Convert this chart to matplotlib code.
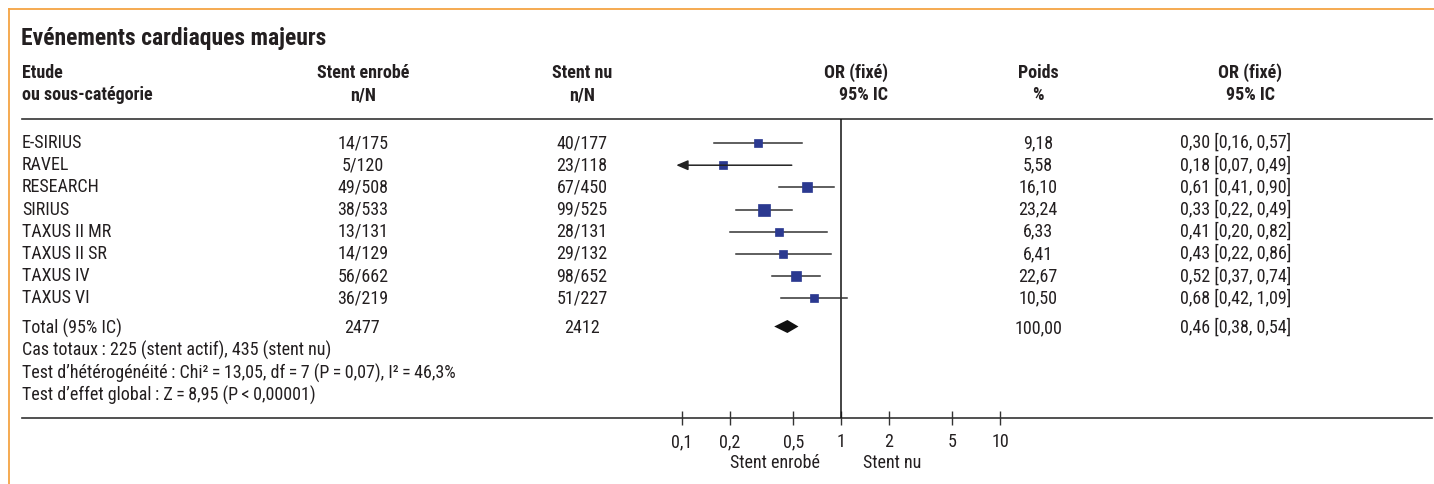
import numpy as np
import matplotlib
matplotlib.use("Agg")
import matplotlib.pyplot as plt
from matplotlib import font_manager

# ------------------------------------------------
# Données
# ------------------------------------------------
etudes = ["E-SIRIUS", "RAVEL", "RESEARCH", "SIRIUS", "TAXUS II MR",
          "TAXUS II SR", "TAXUS IV", "TAXUS VI"]
enrobe = ["14/175", "5/120", "49/508", "38/533", "13/131", "14/129", "56/662", "36/219"]
nu = ["40/177", "23/118", "67/450", "99/525", "28/131", "29/132", "98/652", "51/227"]
poids = [9.18, 5.58, 16.10, 23.24, 6.33, 6.41, 22.67, 10.50]
or_val = [0.30, 0.18, 0.61, 0.33, 0.41, 0.43, 0.52, 0.68]
or_lo = [0.16, 0.07, 0.41, 0.22, 0.20, 0.22, 0.37, 0.42]
or_hi = [0.57, 0.49, 0.90, 0.49, 0.82, 0.86, 0.74, 1.09]

total_enrobe = "2477"
total_nu = "2412"
total_poids = 100.00
total_or, total_lo, total_hi = 0.46, 0.38, 0.54

ticks = [0.1, 0.2, 0.5, 1, 2, 5, 10]
tick_labels = ["0,1", "0,2", "0,5", "1", "2", "5", "10"]

ts = "\u2009"  # espace fine
notes = [
    f"Cas totaux{ts}: 225 (stent actif), 435 (stent nu)",
    f"Test d\u2019hétérogénéité{ts}: Chi²{ts}={ts}13,05, df{ts}={ts}7 (P{ts}={ts}0,07), I²{ts}={ts}46,3%",
    f"Test d\u2019effet global{ts}: Z{ts}={ts}8,95 (P{ts}<{ts}0,00001)",
]


def fr(v):
    return f"{v:.2f}".replace(".", ",")


# police étroite si disponible
candidats = ["Roboto Condensed", "Liberation Sans Narrow", "Roboto"]
noms = {f.name for f in font_manager.fontManager.ttflist}
police = next((c for c in candidats if c in noms), "DejaVu Sans")

# ------------------------------------------------
# Mise en page (coordonnées en pixels)
# ------------------------------------------------
W, H = 1434, 484
plt.rcParams['font.family'] = [police, 'DejaVu Sans']
TXT = "#231f20"
BLEU = "#2b3990"
ORANGE = "#f5a443"
FS = 13

fig = plt.figure(figsize=(W / 100, H / 100), dpi=100)
ax = fig.add_axes([0, 0, 1, 1])
ax.set_xlim(0, W)
ax.set_ylim(H, 0)
ax.axis("off")

# cadre orange
ax.plot([9, W], [9, 9], color=ORANGE, lw=1.3)
ax.plot([9, 9], [9, H], color=ORANGE, lw=1.3)

# titre et en-têtes
ax.text(21, 39, "Evénements cardiaques majeurs", fontsize=17, fontweight="bold",
        color=TXT, va="center", ha="left")
y_h1, y_h2 = 73, 95
ax.text(22, y_h1, "Etude", fontsize=FS, fontweight="bold", color=TXT, va="center")
ax.text(22, y_h2, "ou sous-catégorie", fontsize=FS, fontweight="bold", color=TXT, va="center")
for x, l1, l2, ha in [(363, "Stent enrobé", "n/N", "center"),
                      (582, "Stent nu", "n/N", "center"),
                      (888, "OR (fixé)", "95% IC", "right"),
                      (1038, "Poids", "%", "center"),
                      (1250, "OR (fixé)", "95% IC", "center")]:
    ax.text(x, y_h1, l1, fontsize=FS, fontweight="bold", color=TXT, va="center", ha=ha)
    ax.text(x, y_h2, l2, fontsize=FS, fontweight="bold", color=TXT, va="center", ha=ha)

# filets
ax.plot([22, 1432], [119, 119], color="#333333", lw=1.2)
ax.plot([22, 1432], [418, 418], color="#333333", lw=1.2)

# lignes des études
y0, dy = 143, 22.2
rows_y = [y0 + i * dy for i in range(len(etudes))]
for y, e, a, b, w, o, lo, hi in zip(rows_y, etudes, enrobe, nu, poids, or_val, or_lo, or_hi):
    ax.text(22, y, e, fontsize=FS, color=TXT, va="center")
    ax.text(363, y, a, fontsize=FS, color=TXT, va="center", ha="center")
    ax.text(582, y, b, fontsize=FS, color=TXT, va="center", ha="center")
    ax.text(1038, y, fr(w), fontsize=FS, color=TXT, va="center", ha="center")
    ax.text(1180, y, f"{fr(o)} [{fr(lo)}, {fr(hi)}]", fontsize=FS, color=TXT, va="center")

y_tot = 328
ax.text(22, y_tot, "Total (95% IC)", fontsize=FS, color=TXT, va="center")
ax.text(362, y_tot, total_enrobe, fontsize=FS, color=TXT, va="center", ha="center")
ax.text(582, y_tot, total_nu, fontsize=FS, color=TXT, va="center", ha="center")
ax.text(1038, y_tot, fr(total_poids), fontsize=FS, color=TXT, va="center", ha="center")
ax.text(1180, y_tot, f"{fr(total_or)} [{fr(total_lo)}, {fr(total_hi)}]",
        fontsize=FS, color=TXT, va="center")
for i, n in enumerate(notes):
    ax.text(22, 350.5 + i * 22.5, n, fontsize=FS, color=TXT, va="center")

# ------------------------------------------------
# Forest plot (échelle log)
# ------------------------------------------------
x_one, px_dec = 841, 159
xmin, xmax = 0.05, 20
left = x_one + np.log10(xmin) * px_dec
right = x_one + np.log10(xmax) * px_dec
fx = fig.add_axes([left / W, (H - 418) / H, (right - left) / W, (418 - 119) / H])
fx.set_xscale("log")
fx.set_xlim(xmin, xmax)
fx.set_ylim(418, 119)
fx.patch.set_visible(False)
for s in fx.spines.values():
    s.set_visible(False)
fx.set_yticks([])
fx.set_xticks(ticks)
fx.set_xticklabels(tick_labels)
fx.minorticks_off()
fx.tick_params(axis="x", direction="inout", length=9.5, width=1, color="#333333",
               labelsize=FS, labelcolor=TXT, pad=6)

fx.axvline(1, color="#111111", lw=1.1)

clip = 0.092
for y, w, o, lo, hi in zip(rows_y, poids, or_val, or_lo, or_hi):
    if lo < clip:
        fx.annotate("", xy=(clip, y), xytext=(hi, y),
                    arrowprops=dict(arrowstyle="-|>,head_length=0.7,head_width=0.3",
                                    color="#222222", lw=1.1, shrinkA=0, shrinkB=0))
    else:
        fx.plot([lo, hi], [y, y], color="#333333", lw=1.1)
    side_px = 6 + 0.22 * w
    fx.plot([o], [y], marker="s", ms=side_px * 0.72, color=BLEU, mec=BLEU, mew=0.5, ls="none")

yd = 326.5
fx.fill([total_lo, total_or, total_hi, total_or], [yd, yd - 6.5, yd, yd + 6.5],
        color="#111111", lw=0)

ax.text(775, 463, "Stent enrobé", fontsize=FS, color=TXT, va="center", ha="center")
ax.text(892, 463, "Stent nu", fontsize=FS, color=TXT, va="center", ha="center")

fig.savefig("out.png", dpi=100)
